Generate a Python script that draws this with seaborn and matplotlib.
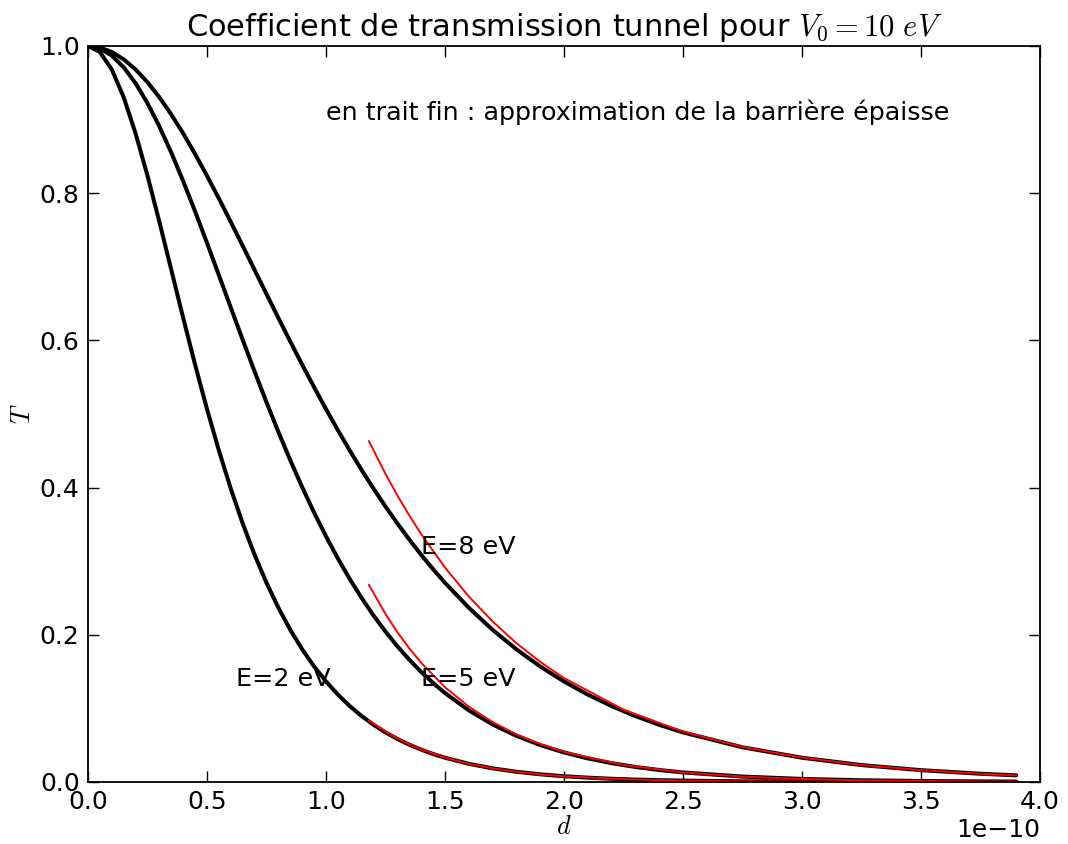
import numpy as np
import seaborn as sns
import matplotlib
matplotlib.use("Agg")
import matplotlib.pyplot as plt

# barrier width in angstrom (axis is in metres)
d_full = [0.0, 0.05, 0.1, 0.15, 0.2, 0.25, 0.3, 0.35, 0.4, 0.45, 0.5, 0.55, 0.6,
          0.65, 0.7, 0.75, 0.8, 0.85, 0.9, 0.95, 1.0, 1.05, 1.1, 1.15, 1.2, 1.25,
          1.3, 1.35, 1.4, 1.45, 1.5, 1.6, 1.7, 1.8, 1.9, 2.0, 2.1, 2.2, 2.3, 2.4,
          2.5, 2.75, 3.0, 3.25, 3.5, 3.75, 3.9]
T_E2 = [1.0, 0.99185, 0.96802, 0.93026, 0.88112, 0.82362, 0.76088, 0.69567,
        0.63040, 0.56694, 0.50661, 0.45027, 0.39840, 0.35121, 0.30860, 0.27057,
        0.23670, 0.20667, 0.18020, 0.15694, 0.13654, 0.11869, 0.10310, 0.08950,
        0.07766, 0.06735, 0.05840, 0.05060, 0.04386, 0.03799, 0.03291, 0.02467,
        0.01849, 0.01386, 0.01038, 0.00777, 0.00585, 0.00436, 0.00326, 0.00244,
        0.00183, 0.00089, 0.00043, 0.00021, 0.00010, 0.00005, 0.00003]
T_E5 = [1.0, 0.99673, 0.98699, 0.97105, 0.94930, 0.92228, 0.89062, 0.85503,
        0.81629, 0.77513, 0.73235, 0.68856, 0.64449, 0.60070, 0.55770, 0.51586,
        0.47555, 0.43703, 0.40047, 0.36602, 0.33372, 0.30361, 0.27566, 0.24984,
        0.22606, 0.20425, 0.18429, 0.16608, 0.14951, 0.13445, 0.12081, 0.09731,
        0.07818, 0.06269, 0.05018, 0.04011, 0.03203, 0.02556, 0.02038, 0.01624,
        0.01296, 0.00732, 0.00413, 0.00233, 0.00132, 0.00074, 0.00053]
T_E8 = [1.0, 0.99795, 0.99185, 0.98181, 0.96802, 0.95074, 0.93026, 0.90691,
        0.88112, 0.85322, 0.82362, 0.79273, 0.76088, 0.72841, 0.69567, 0.66291,
        0.63040, 0.59835, 0.56694, 0.53632, 0.50661, 0.47790, 0.45027, 0.42376,
        0.39840, 0.37423, 0.35121, 0.32937, 0.30860, 0.28907, 0.27057, 0.23670,
        0.20667, 0.18020, 0.15694, 0.13654, 0.11869, 0.10310, 0.08950, 0.07766,
        0.06735, 0.04711, 0.03291, 0.02296, 0.01601, 0.01117, 0.00898]

# thick barrier approximation (thin red lines)
d_thick = [1.18, 1.25, 1.3, 1.35, 1.4, 1.5, 1.6, 1.7, 1.8, 1.9, 2.0, 2.25, 2.5,
           2.75, 3.0, 3.25, 3.5, 3.75, 3.9]
Ta_E2 = [0.0838, 0.0684, 0.0592, 0.0512, 0.0443, 0.0332, 0.0248, 0.0186, 0.0139,
         0.0104, 0.00779, 0.00377, 0.00183, 0.00089, 0.00043, 0.00021, 0.00010,
         0.00005, 0.00003]
Ta_E5 = [0.2679, 0.2282, 0.2035, 0.1815, 0.1618, 0.1287, 0.1024, 0.0814, 0.0647,
         0.0515, 0.0409, 0.0231, 0.0130, 0.0073, 0.0041, 0.0023, 0.0013, 0.0007,
         0.0005]
Ta_E8 = [0.4632, 0.4185, 0.3892, 0.3620, 0.3367, 0.2913, 0.2520, 0.2180, 0.1886,
         0.1632, 0.1412, 0.0983, 0.0684, 0.0476, 0.0332, 0.0231, 0.0161, 0.0112,
         0.0090]

labels = ["E=2 eV", "E=5 eV", "E=8 eV"]
label_pos = [(0.62, 0.13), (1.4, 0.13), (1.4, 0.31)]

sns.set_style("white", {"xtick.direction": "in", "ytick.direction": "in"})
plt.rcParams["font.family"] = ["DejaVu Sans"]
plt.rcParams["mathtext.fontset"] = "cm"
for key in ["text.color", "axes.labelcolor", "xtick.color", "ytick.color"]:
    plt.rcParams[key] = "black"

fig = plt.figure(figsize=(10.68, 8.44), dpi=100)
ax = fig.add_axes([0.0824, 0.0735, 0.8914, 0.872])

x_full = np.array(d_full) * 1e-10
x_thick = np.array(d_thick) * 1e-10

for T in [T_E2, T_E5, T_E8]:
    sns.lineplot(x=x_full, y=T, ax=ax, color="black", linewidth=2.9, sort=False)
for T in [Ta_E2, Ta_E5, Ta_E8]:
    sns.lineplot(x=x_thick, y=T, ax=ax, color="red", linewidth=1.4, sort=False)

for lab, (px, py) in zip(labels, label_pos):
    ax.text(px * 1e-10, py, lab, fontsize=18.3)
ax.text(1.0e-10, 0.9, "en trait fin : approximation de la barrière épaisse", fontsize=18.3)

ax.set_xlim(0, 4e-10)
ax.set_ylim(0, 1)
ax.set_xticks(np.arange(0, 4.01, 0.5) * 1e-10)
ax.set_yticks([0.0, 0.2, 0.4, 0.6, 0.8, 1.0])
ax.tick_params(direction="in", length=8, width=1, labelsize=18, top=True, right=True,
               bottom=True, left=True, pad=6)
ax.xaxis.get_offset_text().set_fontsize(18)
for s in ax.spines.values():
    s.set_color("black")
    s.set_linewidth(1.3)

ax.set_title(r"Coefficient de transmission tunnel pour $V_0 = 10\ eV$", fontsize=22, pad=7)
ax.set_xlabel(r"$d$", fontsize=19, labelpad=0)
ax.set_ylabel(r"$T$", fontsize=19, labelpad=3)

fig.savefig("out.png", dpi=100)
